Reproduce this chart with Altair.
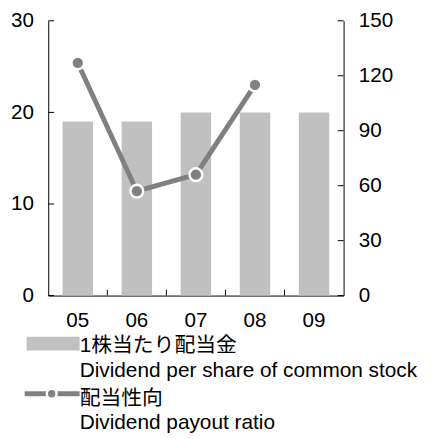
import altair as alt
import pandas as pd

# ---- data ----
years = ["05", "06", "07", "08", "09"]
dividend = [19, 19, 20, 20, 20]
payout_years = ["05", "06", "07", "08"]
payout = [127, 57, 66, 115]
left_ticks = [0, 10, 20, 30]
right_ticks = [0, 30, 60, 90, 120, 150]
boundary_years = ["06", "07", "08", "09"]
legend_labels = ["1株当たり配当金", "Dividend per share of common stock",
                 "配当性向", "Dividend payout ratio"]

W, H = 301, 280
FONT = "Liberation Sans, Arial, Noto Sans CJK JP, sans-serif"
FS = 21
LFS = 21.2
BAR_C = "#c0c0c0"
LINE_C = "#808080"

bar_df = pd.DataFrame({"year": years, "dividend": dividend})
line_df = pd.DataFrame({"year": payout_years, "payout": payout})
lt_df = pd.DataFrame({"v": left_ticks})
rt_df = pd.DataFrame({"v": right_ticks})
bt_df = pd.DataFrame({"year": boundary_years})

x_axis = alt.Axis(title=None, labelAngle=0, labelPadding=15, ticks=False, tickSize=0,
                  labelFontSize=FS, labelColor="black", labelFont=FONT,
                  domainColor="black", domainWidth=1, grid=False)
x_scale = alt.Scale(domain=years, paddingInner=0, paddingOuter=0)


def xenc(**kw):
    return alt.X("year:N", sort=years, scale=x_scale, axis=x_axis, **kw)


left_axis = alt.Axis(title=None, orient="left", values=left_ticks, ticks=False, tickSize=0,
                     labelPadding=15, labelFontSize=FS, labelColor="black", labelFont=FONT,
                     domainColor="black", domainWidth=1, grid=False)
right_axis = alt.Axis(title=None, orient="right", values=right_ticks, ticks=False, tickSize=0,
                      labelPadding=15, labelFontSize=FS, labelColor="black", labelFont=FONT,
                      domainColor="black", domainWidth=1, grid=False)
left_scale = alt.Scale(domain=[0, 30], nice=False, zero=True)
right_scale = alt.Scale(domain=[0, 150], nice=False, zero=True)

bars = alt.Chart(bar_df).mark_bar(color=BAR_C, size=31).encode(
    x=xenc(),
    y=alt.Y("dividend:Q", scale=left_scale, axis=left_axis),
)
lticks = alt.Chart(lt_df).mark_rule(color="black", strokeWidth=1).encode(
    y=alt.Y("v:Q", scale=left_scale, axis=left_axis),
    x=alt.value(0), x2=alt.value(6),
)
xticks = alt.Chart(bt_df).mark_rule(color="black", strokeWidth=1).encode(
    x=xenc(bandPosition=0),
    y=alt.value(H - 6), y2=alt.value(H),
)
left_group = alt.layer(bars, lticks, xticks)

line = alt.Chart(line_df).mark_line(color=LINE_C, strokeWidth=5).encode(
    x=xenc(),
    y=alt.Y("payout:Q", scale=right_scale, axis=right_axis),
)
pts = alt.Chart(line_df).mark_point(filled=True, fill=LINE_C, stroke="white",
                                    strokeWidth=2.5, size=169, opacity=1).encode(
    x=xenc(),
    y=alt.Y("payout:Q", scale=right_scale, axis=right_axis),
)
rticks = alt.Chart(rt_df).mark_rule(color="black", strokeWidth=1).encode(
    y=alt.Y("v:Q", scale=right_scale, axis=right_axis),
    x=alt.value(W - 6), x2=alt.value(W),
)
right_group = alt.layer(line, pts, rticks)

# ---- legend (drawn below the plot) ----
one = pd.DataFrame({"k": [0]})
swatch = alt.Chart(one).mark_rect(color=BAR_C).encode(
    x=alt.value(-22), x2=alt.value(32), y=alt.value(322), y2=alt.value(336))
lg_line = alt.Chart(one).mark_rule(color=LINE_C, strokeWidth=5).encode(
    x=alt.value(-24), x2=alt.value(32), y=alt.value(380))
lg_pt = alt.Chart(one).mark_point(filled=True, fill=LINE_C, stroke="white",
                                  strokeWidth=2.5, size=100, opacity=1).encode(
    x=alt.value(3.5), y=alt.value(380))

legend_y = [337, 363, 391, 416]
texts = []
for lab, yy in zip(legend_labels, legend_y):
    texts.append(
        alt.Chart(pd.DataFrame({"label": [lab]})).mark_text(
            align="left", baseline="alphabetic", font=FONT, fontSize=LFS, color="black"
        ).encode(x=alt.value(32), y=alt.value(yy), text="label:N")
    )

chart = alt.layer(left_group, right_group, swatch, lg_line, lg_pt, *texts).resolve_scale(
    y="independent"
).properties(
    width=W, height=H,
    autosize=alt.AutoSizeParams(type="none"),
    padding={"left": 41, "top": 9, "right": 85, "bottom": 138},
).configure_view(stroke=None)

chart.save("out.html", embed_options={"renderer": "svg", "actions": False})
